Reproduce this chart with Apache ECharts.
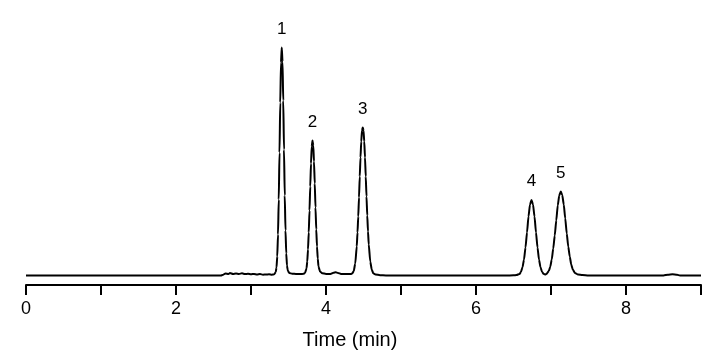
<!DOCTYPE html>
<html>
<head>
<meta charset="utf-8">
<script src="https://cdn.jsdelivr.net/npm/echarts@6/dist/echarts.min.js"></script>
<style>
html,body{margin:0;padding:0;background:#fff;}
#chart{width:728px;height:357px;}
</style>
</head>
<body>
<div id="chart"></div>
<script>
// Retention time (min)
var times = [
  0, 0.5, 1.0, 1.5, 2.0, 2.5, 2.6,
  2.62, 2.66, 2.70, 2.72, 2.76, 2.80, 2.84, 2.88, 2.92, 2.96, 3.00, 3.04, 3.08, 3.12, 3.16, 3.20, 3.24, 3.28, 3.30,
  3.31, 3.33, 3.34, 3.35, 3.36, 3.37, 3.38, 3.39, 3.40, 3.41, 3.42, 3.43, 3.44, 3.45, 3.46, 3.47, 3.48, 3.49, 3.51, 3.55,
  3.60, 3.68, 3.70, 3.72, 3.74, 3.75, 3.76, 3.77, 3.78, 3.79, 3.80, 3.81, 3.82, 3.83, 3.84, 3.85, 3.86, 3.87, 3.88, 3.89, 3.90, 3.92, 3.95,
  4.00, 4.06, 4.10, 4.13, 4.16, 4.20, 4.25, 4.33, 4.35, 4.37, 4.39, 4.41, 4.42, 4.43, 4.44, 4.45, 4.46, 4.47, 4.48, 4.49, 4.50,
  4.51, 4.52, 4.53, 4.54, 4.55, 4.56, 4.57, 4.59, 4.61, 4.63, 4.66, 4.72, 4.80,
  5.50, 6.40, 6.50, 6.54, 6.58, 6.60, 6.62, 6.64, 6.66, 6.68, 6.70, 6.72, 6.74, 6.76, 6.78, 6.80, 6.82, 6.84, 6.86, 6.88, 6.90, 6.92, 6.94,
  6.97, 6.99, 7.01, 7.03, 7.05, 7.07, 7.09, 7.11, 7.13, 7.15, 7.17, 7.19, 7.21, 7.23, 7.25, 7.27, 7.29, 7.32, 7.36, 7.42, 7.50,
  8.00, 8.50, 8.56, 8.62, 8.68, 8.72, 9.00
];
// Detector signal (arbitrary units)
var signal = [
  0, 0, 0, 0, 0, 0, 0,
  0.5, 2, 1.5, 2.5, 1.5, 2, 1.5, 2.2, 1.4, 1.8, 1.2, 1.6, 1.0, 1.4, 0.8, 1.0, 1.2, 0.8, 1.0,
  1.2, 3.5, 8, 19, 41, 76, 123, 173, 213, 228, 214, 175, 126, 80, 45, 22, 10, 5, 2.5, 1.8,
  1.5, 1.5, 1.8, 2.6, 7, 14, 26, 43, 65, 89, 112, 129, 135, 130, 114, 92, 68, 46, 29, 17, 9, 4, 2.2,
  1.6, 1.6, 2.8, 3.2, 2.6, 1.6, 1.5, 1.6, 2.0, 4.5, 12, 29, 43, 59, 78, 99, 118, 134, 145, 148, 145,
  134, 118, 99, 79, 60, 44, 31, 14, 6, 2.2, 1.0, 0.3, 0,
  0, 0, 0.2, 0.5, 1.5, 3.7, 8.2, 16, 28, 43, 59, 71, 75.5, 71, 59, 43, 28, 16, 8.2, 3.8, 1.7, 1.0, 1.5,
  4.4, 8.8, 16, 27, 40, 55, 70, 80, 84, 80.5, 71, 57, 42, 29, 19, 11, 6, 2.5, 1, 0.4, 0,
  0, 0, 0.8, 1.2, 0.8, 0, 0
];
// Peak annotations
var peakNames = ['1', '2', '3', '4', '5'];
var peakTimes = [3.41, 3.82, 4.49, 6.74, 7.13];
var peakHeights = [228, 135, 148, 75.5, 84];
// Axis ticks
var xTickLabels = ['0', '', '2', '', '4', '', '6', '', '8', ''];
var xTitle = 'Time (min)';

var chart = echarts.init(document.getElementById('chart'), null, {renderer: 'canvas'});
var lineData = times.map(function (t, i) { return [t, signal[i]]; });
var peakMarks = peakNames.map(function (n, i) {
  return { name: n, coord: [peakTimes[i], peakHeights[i]], value: n };
});
var FONT = '"Liberation Sans", Arial, sans-serif';

chart.setOption({
  animation: false,
  backgroundColor: '#ffffff',
  grid: { left: 26, right: 27, top: 20, bottom: 72 },
  xAxis: {
    type: 'value',
    min: 0,
    max: 9,
    interval: 1,
    axisLine: { show: true, onZero: false, lineStyle: { color: '#000', width: 2 } },
    axisTick: { show: true, length: 10, lineStyle: { color: '#000', width: 2 } },
    splitLine: { show: false },
    axisLabel: {
      color: '#000',
      fontSize: 18,
      fontFamily: FONT,
      margin: 15,
      showMaxLabel: true,
      formatter: function (v) {
        var i = Math.round(v);
        return xTickLabels[i] !== undefined ? xTickLabels[i] : '';
      }
    }
  },
  yAxis: {
    type: 'value',
    min: -9.5,
    max: 255.5,
    show: false
  },
  graphic: [{
    type: 'text',
    x: 350,
    y: 340,
    style: {
      text: xTitle,
      fill: '#000',
      font: '20px "Liberation Sans", Arial, sans-serif',
      textAlign: 'center',
      textVerticalAlign: 'middle'
    }
  }],
  series: [{
    type: 'line',
    data: lineData,
    showSymbol: false,
    smooth: 0.2,
    smoothMonotone: 'x',
    lineStyle: { color: '#000', width: 2 },
    markPoint: {
      symbol: 'circle',
      symbolSize: 0,
      data: peakMarks,
      label: {
        show: true,
        position: 'top',
        distance: 10,
        color: '#000',
        fontSize: 17,
        fontFamily: FONT,
        formatter: function (p) { return p.name; }
      }
    }
  }]
});
</script>
</body>
</html>
